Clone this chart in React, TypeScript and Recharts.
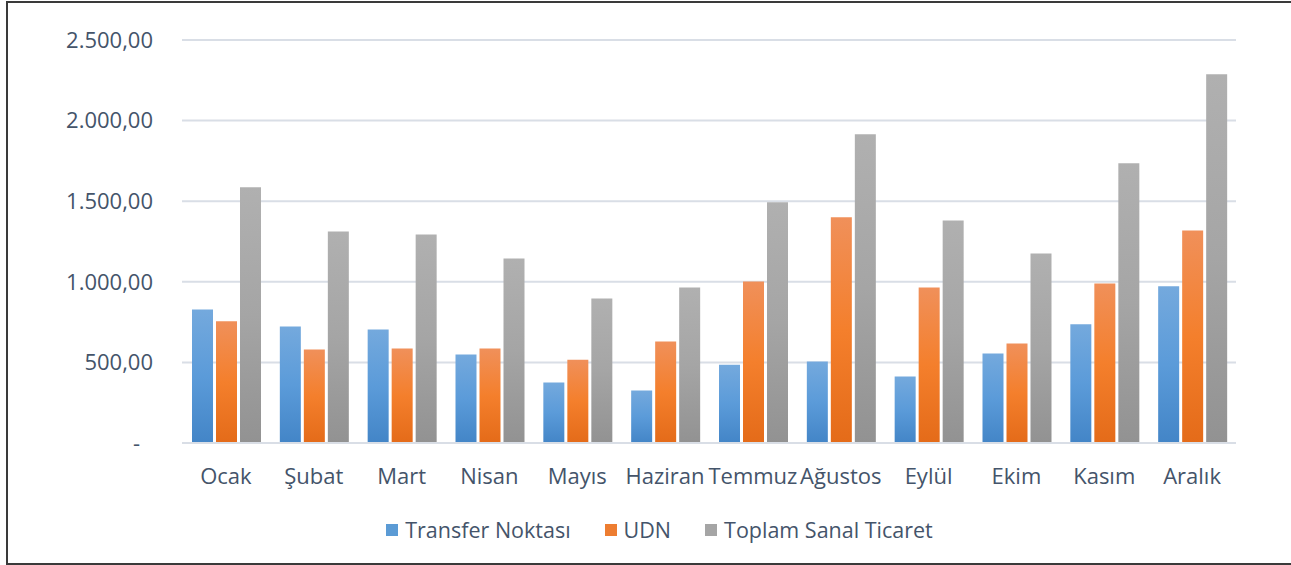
import React from 'react';
import { BarChart, Bar, XAxis, YAxis, CartesianGrid, Legend } from 'recharts';

const months = ['Ocak', 'Şubat', 'Mart', 'Nisan', 'Mayıs', 'Haziran', 'Temmuz', 'Ağustos', 'Eylül', 'Ekim', 'Kasım', 'Aralık'];
const transferNoktasi = [828, 722, 704, 549, 375, 325, 486, 505, 412, 555, 736, 972];
const udn = [755, 580, 586, 586, 517, 629, 1002, 1400, 965, 617, 990, 1318];
const toplamSanalTicaret = [1586, 1312, 1294, 1145, 896, 965, 1493, 1915, 1381, 1175, 1735, 2287];
const yTicks = [0, 500, 1000, 1500, 2000, 2500];

const seriesNames = ['Transfer Noktası', 'UDN', 'Toplam Sanal Ticaret'];

const data = months.map((m, i) => ({
  month: m,
  transfer: transferNoktasi[i],
  udn: udn[i],
  toplam: toplamSanalTicaret[i],
}));

const FONT = '"Open Sans", sans-serif';
const TEXT = '#44546A';

function formatTR(v: number): string {
  if (v === 0) return '-';
  const intPart = Math.floor(v).toString().replace(/\B(?=(\d{3})+(?!\d))/g, '.');
  return intPart + ',00';
}

const YTick = (props: any) => {
  const { x, y, payload } = props;
  const v = payload.value;
  return (
    <text x={v === 0 ? x - 13 : x} y={y} dy="0.35em" textAnchor="end" fill={TEXT} fontSize={22} fontFamily={FONT}>
      {formatTR(v)}
    </text>
  );
};

const legendColors = ['#5B9BD5', '#ED7D31', '#A5A5A5'];

const LegendContent = () => (
  <div style={{ display: 'flex', justifyContent: 'center', alignItems: 'center', fontFamily: FONT, fontSize: 21.5, color: TEXT }}>
    {seriesNames.map((n, i) => (
      <div key={n} style={{ display: 'flex', alignItems: 'center', marginRight: i < 2 ? 34 : 0 }}>
        <div style={{ width: 12, height: 12, background: legendColors[i], marginRight: 7 }} />
        <span>{n}</span>
      </div>
    ))}
  </div>
);

export default function App() {
  return (
    <div style={{ position: 'absolute', left: 0, top: 0, width: 1291, height: 565, background: '#fff' }}>
      <div style={{ position: 'absolute', left: 6, top: 1, width: 1300, height: 560, border: '2px solid #3a3a3a' }} />
      <div style={{ position: 'absolute', left: 0, top: 0 }}>
        <BarChart
          width={1291}
          height={565}
          data={data}
          margin={{ top: 40, right: 55, bottom: 92, left: 0 }}
          barCategoryGap={10}
          barGap={3}
        >
          <defs>
            <linearGradient id="gBlue" x1="0" y1="0" x2="0" y2="1">
              <stop offset="0%" stopColor="#74A9DD" />
              <stop offset="50%" stopColor="#5B9BD9" />
              <stop offset="100%" stopColor="#4385C7" />
            </linearGradient>
            <linearGradient id="gOrange" x1="0" y1="0" x2="0" y2="1">
              <stop offset="0%" stopColor="#F0905A" />
              <stop offset="50%" stopColor="#F47F2C" />
              <stop offset="100%" stopColor="#E46B19" />
            </linearGradient>
            <linearGradient id="gGray" x1="0" y1="0" x2="0" y2="1">
              <stop offset="0%" stopColor="#B0B0B0" />
              <stop offset="50%" stopColor="#A5A5A5" />
              <stop offset="100%" stopColor="#929292" />
            </linearGradient>
          </defs>
          <CartesianGrid vertical={false} stroke="#D9DEE6" strokeWidth={2} />
          <XAxis
            dataKey="month"
            axisLine={{ stroke: '#D9DEE6', strokeWidth: 2 }}
            tickLine={false}
            tickMargin={19}
            height={30}
            interval={0}
            tick={{ fill: TEXT, fontSize: 22, fontFamily: FONT }}
          />
          <YAxis
            domain={[0, 2500]}
            ticks={yTicks}
            width={182}
            axisLine={false}
            tickLine={false}
            tickMargin={23}
            tick={<YTick />}
          />
          <Legend
            layout="horizontal"
            verticalAlign="middle"
            align="center"
            wrapperStyle={{ top: 515, left: 14, width: 1291 }}
            content={<LegendContent />}
          />
          <Bar dataKey="transfer" name={seriesNames[0]} fill="url(#gBlue)" isAnimationActive={false} />
          <Bar dataKey="udn" name={seriesNames[1]} fill="url(#gOrange)" isAnimationActive={false} />
          <Bar dataKey="toplam" name={seriesNames[2]} fill="url(#gGray)" isAnimationActive={false} />
        </BarChart>
      </div>
    </div>
  );
}
